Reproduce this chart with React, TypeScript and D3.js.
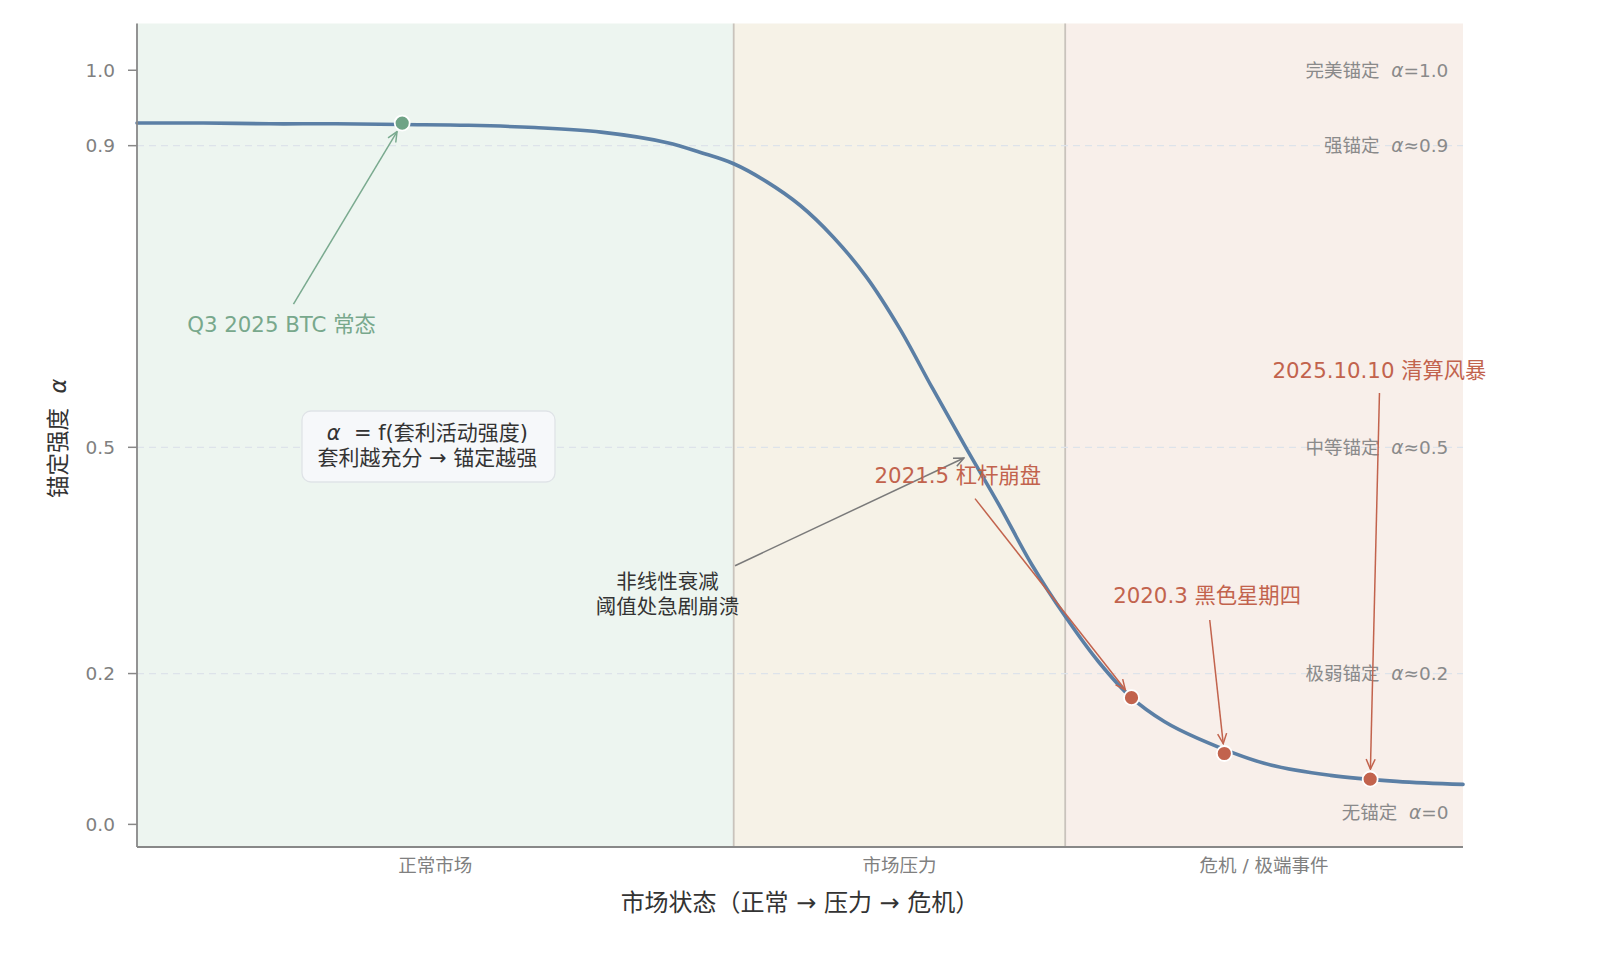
import * as d3 from "d3";

// curve (market state 0..10 -> anchoring alpha)
const curveX = [0, 0.5, 1, 1.5, 2, 2.5, 3, 3.5, 4, 4.25, 4.5, 4.75, 5, 5.25, 5.5, 5.75, 6, 6.25, 6.5, 6.75, 7, 7.25, 7.5, 7.75, 8, 8.5, 9, 9.5, 10];
const curveY = [0.930, 0.930, 0.929, 0.929, 0.928, 0.927, 0.924, 0.918, 0.904, 0.891, 0.876, 0.852, 0.821, 0.779, 0.726, 0.658, 0.578, 0.500, 0.424, 0.344, 0.276, 0.216, 0.168, 0.136, 0.114, 0.081, 0.065, 0.057, 0.053];

const zoneNames = ["正常市场", "市场压力", "危机 / 极端事件"];
const zoneStart = [0, 4.5, 7];
const zoneEnd = [4.5, 7, 10];
const zoneFill = ["#edf5f0", "#f6f2e7", "#f8efea"];

const yTicks = [0, 0.2, 0.5, 0.9, 1.0];
const gridLevels = [0.2, 0.5, 0.9];

const refNames = ["完美锚定", "强锚定", "中等锚定", "极弱锚定", "无锚定"];
const refSigns = ["=1.0", "≈0.9", "≈0.5", "≈0.2", "=0"];
const refLevels = [1.0, 0.9, 0.5, 0.2, 0.016];

// events on the curve
const eventNames = ["Q3 2025 BTC 常态", "2021.5 杠杆崩盘", "2020.3 黑色星期四", "2025.10.10 清算风暴"];
const eventX = [2.0, 7.5, 8.2, 9.3];
const eventY = [0.93, 0.168, 0.094, 0.06];
const eventTextX = [1.09, 6.19, 8.07, 9.37];
const eventTextY = [0.663, 0.463, 0.304, 0.602];
const eventFromX = [1.18, 6.32, 8.09, 9.37];
const eventFromY = [0.69, 0.432, 0.271, 0.572];

const green = "#6fa386";
const red = "#c2634d";
const lineColor = "#5b7fa5";
const font = "'DejaVu Sans', 'Noto Sans CJK SC', sans-serif";

const W = 1600;
const H = 967;
const left = 137, right = 1463, top = 23.5, bottom = 847;

const x = d3.scaleLinear().domain([0, 10]).range([left, right]);
const y = d3.scaleLinear().domain([-0.03, 1.062]).range([bottom, top]);

const Alpha = () => (
  <tspan fontFamily="'DejaVu Sans', sans-serif" fontStyle="italic">α</tspan>
);

function arrow(x0: number, y0: number, x1: number, y1: number, shrink: number) {
  const dx = x1 - x0, dy = y1 - y0;
  const len = Math.sqrt(dx * dx + dy * dy);
  return { x1: x0, y1: y0, x2: x1 - (dx / len) * shrink, y2: y1 - (dy / len) * shrink };
}

export default function App() {
  const line = d3.line<number>()
    .x((d, i) => x(curveX[i]))
    .y((d) => y(d))
    .curve(d3.curveCatmullRom.alpha(0.5));

  const noteArrow = arrow(x(4.51), y(0.343), x(6.25), y(0.487), 2);

  return (
    <div style={{ position: "absolute", left: 0, top: 0 }}>
      <svg width={W} height={H} style={{ fontFamily: font, background: "#fff", display: "block" }}>
        <defs>
          {[["arrGreen", "#7aaa8f"], ["arrRed", red], ["arrGray", "#7a7a7a"]].map(([id, c]) => (
            <marker key={id} id={id} viewBox="0 0 12 12" refX="11" refY="6" markerWidth="12" markerHeight="12"
              markerUnits="userSpaceOnUse" orient="auto">
              <path d="M1,1.5 L11,6 L1,10.5" fill="none" stroke={c} strokeWidth={1.5} />
            </marker>
          ))}
        </defs>

        {/* zones */}
        {zoneNames.map((n, i) => (
          <rect key={n} x={x(zoneStart[i])} y={top} width={x(zoneEnd[i]) - x(zoneStart[i])}
            height={bottom - top} fill={zoneFill[i]} />
        ))}
        {[4.5, 7].map((b) => (
          <line key={b} x1={x(b)} x2={x(b)} y1={top} y2={bottom} stroke="#c9c3bc" strokeWidth={1.8} />
        ))}

        {/* reference grid */}
        {gridLevels.map((g) => (
          <line key={g} x1={left} x2={right} y1={y(g)} y2={y(g)} stroke="#dde3ea" strokeWidth={1.2}
            strokeDasharray="7,5" />
        ))}

        {/* right-side reference labels */}
        {refNames.map((n, i) => (
          <text key={n} x={x(9.89)} y={y(refLevels[i])} dy="0.35em" textAnchor="end" fontSize={18.5} fill="#8a8a8a"
            style={{ whiteSpace: "pre" }}>
            {n + "  "}<Alpha />{refSigns[i]}
          </text>
        ))}

        {/* curve */}
        <path d={line(curveY) || ""} fill="none" stroke={lineColor} strokeWidth={3.6} strokeLinecap="round" />

        {/* formula box */}
        <rect x={302} y={411} width={253} height={71} rx={9} fill="#f6f8fa" stroke="#dfe3e7" strokeWidth={1.3} />
        <text x={x(2.19)} y={y(0.502)} textAnchor="middle" fontSize={21} fill="#333" style={{ whiteSpace: "pre" }}>
          <tspan x={x(2.19)} dy="-0.28em"><Alpha />{"  = f(套利活动强度)"}</tspan>
          <tspan x={x(2.19)} dy="1.2em">套利越充分 → 锚定越强</tspan>
        </text>

        {/* nonlinear note */}
        <line {...noteArrow} stroke="#7a7a7a" strokeWidth={1.5} markerEnd="url(#arrGray)" />
        <text x={x(4.0)} y={y(0.305)} textAnchor="middle" fontSize={20.5} fill="#333">
          <tspan x={x(4.0)} dy="-0.25em">非线性衰减</tspan>
          <tspan x={x(4.0)} dy="1.22em">阈值处急剧崩溃</tspan>
        </text>

        {/* event annotations */}
        {eventNames.map((n, i) => {
          const a = arrow(x(eventFromX[i]), y(eventFromY[i]), x(eventX[i]), y(eventY[i]), 10);
          const c = i === 0 ? "#7aaa8f" : red;
          return (
            <g key={n}>
              <line {...a} stroke={c} strokeWidth={1.5} markerEnd={`url(#${i === 0 ? "arrGreen" : "arrRed"})`} />
              <text x={x(eventTextX[i])} y={y(eventTextY[i])} dy="0.35em" textAnchor="middle" fontSize={21.3}
                fill={i === 0 ? "#78a88c" : red}>{n}</text>
            </g>
          );
        })}
        {eventNames.map((n, i) => (
          <circle key={n} cx={x(eventX[i])} cy={y(eventY[i])} r={7.5} fill={i === 0 ? green : red}
            stroke="#fff" strokeWidth={1.8} />
        ))}

        {/* axes */}
        <line x1={left} x2={left} y1={top} y2={bottom} stroke="#888" strokeWidth={1.8} />
        <line x1={left} x2={right} y1={bottom} y2={bottom} stroke="#888" strokeWidth={1.8} />
        {yTicks.map((t) => (
          <g key={t}>
            <line x1={left - 9} x2={left} y1={y(t)} y2={y(t)} stroke="#888" strokeWidth={1.5} />
            <text x={left - 22} y={y(t)} dy="0.35em" textAnchor="end" fontSize={18.5} fill="#808080">
              {d3.format(".1f")(t)}
            </text>
          </g>
        ))}
        {zoneNames.map((n, i) => (
          <text key={n} x={x((zoneStart[i] + zoneEnd[i]) / 2)} y={bottom + 19} dy="0.35em" textAnchor="middle"
            fontSize={18.5} fill="#808080">{n}</text>
        ))}

        <text x={(left + right) / 2} y={903} dy="0.35em" textAnchor="middle" fontSize={24} fill="#333">
          市场状态（正常 → 压力 → 危机）
        </text>
        <text transform={`translate(58, ${y(0.5) - 9}) rotate(-90)`} dy="0.35em" textAnchor="middle" fontSize={22.5}
          fill="#333" style={{ whiteSpace: "pre" }}>
          {"锚定强度  "}<Alpha />
        </text>
      </svg>
    </div>
  );
}
